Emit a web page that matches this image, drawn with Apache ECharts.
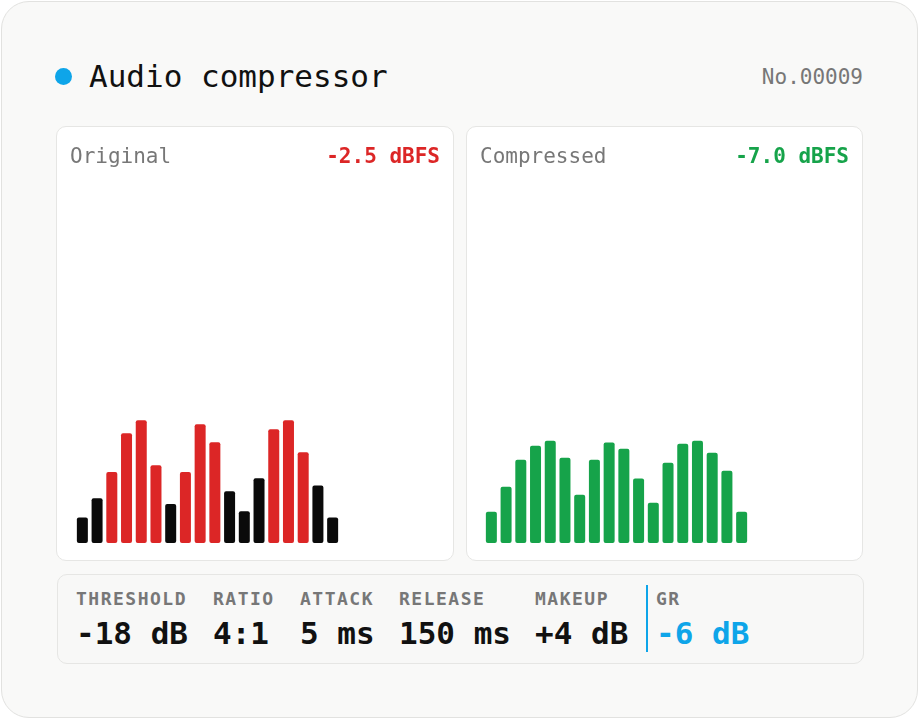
<!DOCTYPE html>
<html>
<head>
<meta charset="utf-8">
<script src="https://cdn.jsdelivr.net/npm/echarts@6/dist/echarts.min.js"></script>
<style>
  html, body { margin: 0; padding: 0; background: #ffffff; }
  body { width: 920px; height: 720px; position: relative; font-family: "DejaVu Sans Mono", monospace; }
  .card { position: absolute; left: 1px; top: 1px; width: 917px; height: 717px; border: 1px solid #e2e2e0; border-radius: 28px; background: #f9f9f8; box-sizing: border-box; }
  .abs { position: absolute; white-space: nowrap; }
  .dot { left: 55px; top: 68px; width: 17px; height: 17px; border-radius: 50%; background: #0ea5e9; }
  .title { left: 89px; top: 58px; font-size: 31px; line-height: 36px; color: #111; }
  .no { right: 57px; top: 65px; font-size: 21px; line-height: 24px; color: #777; }
  .panel { position: absolute; top: 126px; height: 435px; background: #ffffff; border: 1px solid #e6e6e4; border-radius: 10px; box-sizing: border-box; }
  .plabel { top: 17px; left: 13px; font-size: 21px; line-height: 24px; color: #777; }
  .pval { top: 17px; right: 13px; font-size: 21px; line-height: 24px; font-weight: bold; }
  .chart { position: absolute; left: 0; top: 0; width: 100%; height: 100%; }
  .params { position: absolute; left: 57px; top: 574px; width: 807px; height: 90px; border: 1px solid #e6e6e4; border-radius: 10px; background: #f8f8f7; box-sizing: border-box; }
  .lab { top: 14px; font-size: 18px; line-height: 20px; font-weight: bold; color: #777; letter-spacing: 1.5px; }
  .val { top: 40px; font-size: 31px; line-height: 36px; font-weight: bold; color: #111; }
  .sep { position: absolute; left: 588px; top: 10px; width: 2px; height: 67px; background: #0ea5e9; }
</style>
</head>
<body>
<div class="card"></div>
<div class="abs dot"></div>
<div class="abs title">Audio compressor</div>
<div class="abs no">No.00009</div>

<div class="panel" style="left:56px;width:398px;">
  <div id="chartOrig" class="chart"></div>
  <div class="abs plabel">Original</div>
  <div class="abs pval" style="color:#dc2626;">-2.5 dBFS</div>
</div>
<div class="panel" style="left:466px;width:397px;">
  <div id="chartComp" class="chart"></div>
  <div class="abs plabel">Compressed</div>
  <div class="abs pval" style="color:#16a34a;">-7.0 dBFS</div>
</div>

<div class="params" id="params"></div>

<script>
// bar levels (0-100 scale)
const bands = ['1','2','3','4','5','6','7','8','9','10','11','12','13','14','15','16','17','18'];
const originalLevels = [7.1, 12.4, 19.7, 30.5, 34.1, 21.6, 10.8, 19.7, 33.0, 28.0, 14.4, 8.8, 18.0, 31.6, 34.1, 25.2, 16.0, 7.1];
const compressedLevels = [8.7, 15.6, 23.1, 27.0, 28.4, 23.7, 13.4, 23.1, 27.9, 26.2, 17.9, 11.2, 22.3, 27.6, 28.4, 25.1, 20.1, 8.7];
const thresholdLevel = 19;

const paramLabels = ['THRESHOLD', 'RATIO', 'ATTACK', 'RELEASE', 'MAKEUP', 'GR'];
const paramValues = ['-18 dB', '4:1', '5 ms', '150 ms', '+4 dB', '-6 dB'];
const paramX = [18, 155, 242, 341, 477, 598];

// parameter strip
const box = document.getElementById('params');
paramLabels.forEach((name, i) => {
  const l = document.createElement('div');
  l.className = 'abs lab';
  l.style.left = paramX[i] + 'px';
  l.textContent = name;
  box.appendChild(l);
  const v = document.createElement('div');
  v.className = 'abs val';
  v.style.left = paramX[i] + 'px';
  v.textContent = paramValues[i];
  if (name === 'GR') v.style.color = '#0ea5e9';
  box.appendChild(v);
});
const sep = document.createElement('div');
sep.className = 'sep';
box.appendChild(sep);

function makeOption(levels, colorFn, gridLeft) {
  return {
    animation: false,
    grid: { left: gridLeft, width: 265, bottom: 17, height: 360 },
    xAxis: {
      type: 'category',
      data: bands,
      axisLine: { show: false },
      axisTick: { show: false },
      axisLabel: { show: false }
    },
    yAxis: {
      type: 'value',
      min: 0,
      max: 100,
      show: false,
      splitLine: { show: false }
    },
    series: [{
      type: 'bar',
      barWidth: 11,
      data: levels.map(v => ({
        value: v,
        itemStyle: { color: colorFn(v), borderRadius: 2 }
      }))
    }]
  };
}

let chartOrig = echarts.init(document.getElementById('chartOrig'));
let chartComp = echarts.init(document.getElementById('chartComp'));
chartOrig.setOption(makeOption(originalLevels, v => v > thresholdLevel ? '#dc2626' : '#0a0a0a', 18));
chartComp.setOption(makeOption(compressedLevels, () => '#16a34a', 17));
</script>
</body>
</html>
